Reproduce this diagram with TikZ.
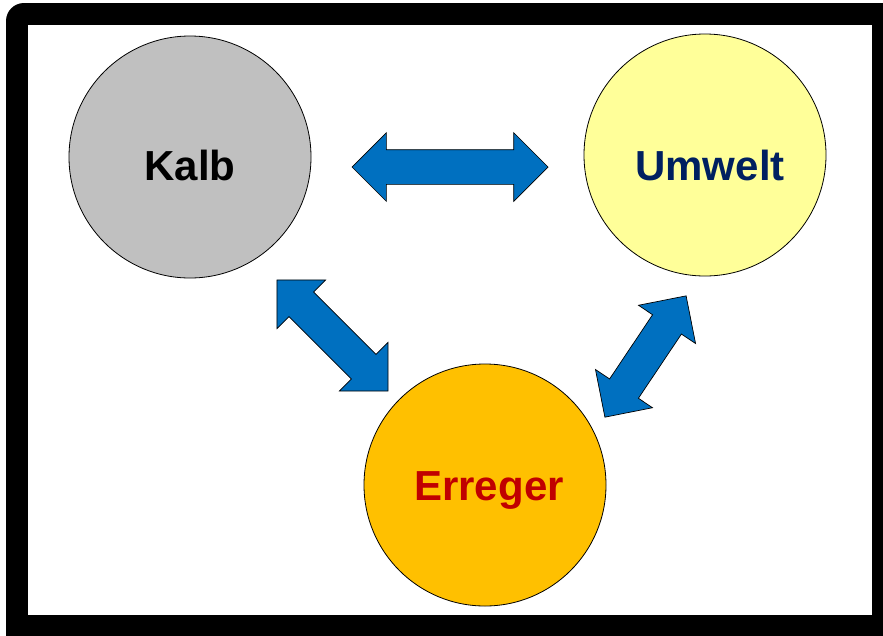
\documentclass[tikz,border=0pt]{standalone}
\usepackage{fontspec}
\setmainfont{Liberation Sans}
\usetikzlibrary{shapes.arrows}
\definecolor{kalbgray}{HTML}{C0C0C0}
\definecolor{umweltyellow}{HTML}{FFFF99}
\definecolor{erregergold}{HTML}{FFC000}
\definecolor{arrowblue}{HTML}{0070C0}
\definecolor{umweltnavy}{HTML}{002060}
\definecolor{erregerred}{HTML}{C00000}

\begin{document}
\begin{tikzpicture}[x=1pt,y=-1pt,
    ring/.style={circle,draw=black,line width=0.8pt,minimum size=242pt,inner sep=0pt},
    biarrow/.style={double arrow,draw=black,line width=0.7pt,fill=arrowblue,inner xsep=0pt,inner ysep=17pt,
      minimum width=68pt,double arrow head extend=17pt,double arrow tip angle=90},
    lbl/.style={font=\fontsize{42}{48}\selectfont\bfseries,anchor=base}]
  \useasboundingbox (0,0) rectangle (883,635);
  % frame
  \fill[rounded corners=18pt] (6,3) rectangle (905,660);
  \fill[white] (28,25) rectangle (872,615);
  % circles
  \node[ring,fill=kalbgray] (kalb) at (190,157) {};
  \node[ring,fill=umweltyellow] (umwelt) at (705,155) {};
  \node[ring,fill=erregergold] (erreger) at (485,485) {};
  \node[lbl] (kalbtext) at (190,180) {Kalb};
  \node[lbl,text=umweltnavy] (umwelttext) at (710,180) {Umwelt};
  \node[lbl,text=erregerred] (erregertext) at (489,500) {Erreger};
  % arrows
  \node[biarrow,minimum height=196pt] (kalbumwelt) at (450,167) {};
  \node[biarrow,minimum height=157pt,rotate=-45] (kalberreger) at (332.5,335.5) {};
  \node[biarrow,minimum height=146pt,rotate=56.2] (umwelterreger) at (645.5,356.5) {};
\end{tikzpicture}
\end{document}
